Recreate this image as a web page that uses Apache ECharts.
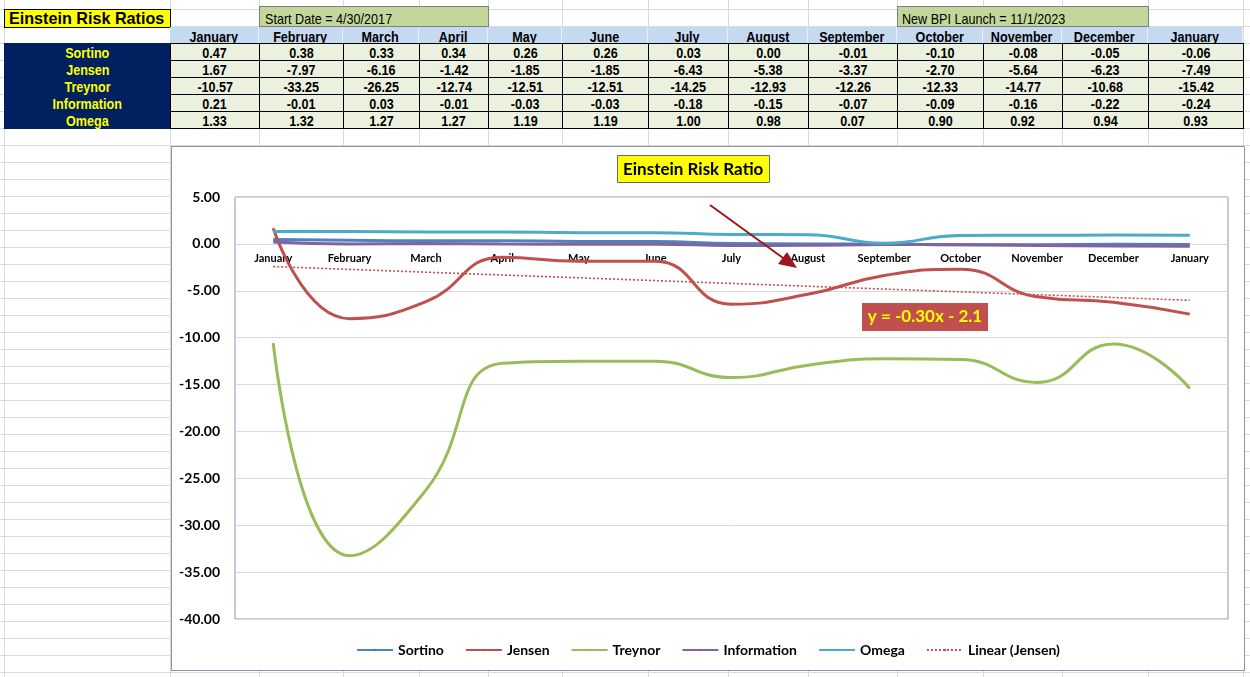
<!DOCTYPE html>
<html>
<head>
<meta charset="utf-8">
<script src="https://cdn.jsdelivr.net/npm/echarts@6/dist/echarts.min.js"></script>
<style>
  html, body { margin:0; padding:0; width:1250px; height:677px; overflow:hidden; background:#fff; position:relative; }
  .gl { position:absolute; background:#dadada; }
  .cell { position:absolute; box-sizing:border-box; display:flex; align-items:center; justify-content:center;
          font-family:"Liberation Sans",Arial,sans-serif; font-size:15px; font-weight:bold; color:#000; white-space:nowrap; }
  .cell span { display:inline-block; transform:scaleX(0.84); }
  .cell.left span { transform-origin:0 50%; }
  #chartBox { position:absolute; left:171px; top:146px; width:1074px; height:525px; box-sizing:border-box; border:1px solid #8497b0; background:#fff; }
  #chart { width:1072px; height:523px; }
</style>
</head>
<body>
<div id="chartBox"><div id="chart"></div></div>
<script>
// ---- data ----
const months = ['January','February','March','April','May','June','July','August','September','October','November','December','January'];
const sortino = [0.47,0.38,0.33,0.34,0.26,0.26,0.03,0.00,-0.01,-0.10,-0.08,-0.05,-0.06];
const jensen = [1.67,-7.97,-6.16,-1.42,-1.85,-1.85,-6.43,-5.38,-3.37,-2.70,-5.64,-6.23,-7.49];
const treynor = [-10.57,-33.25,-26.25,-12.74,-12.51,-12.51,-14.25,-12.93,-12.26,-12.33,-14.77,-10.68,-15.42];
const information = [0.21,-0.01,0.03,-0.01,-0.03,-0.03,-0.18,-0.15,-0.07,-0.09,-0.16,-0.22,-0.24];
const omega = [1.33,1.32,1.27,1.27,1.19,1.19,1.00,0.98,0.07,0.90,0.92,0.94,0.93];
const rowNames = ['Sortino','Jensen','Treynor','Information','Omega'];
const rowValues = [sortino, jensen, treynor, information, omega];
const sheetTitle = 'Einstein Risk Ratios';
const startNote = 'Start Date = 4/30/2017';
const launchNote = 'New BPI Launch = 11/1/2023';
const chartTitle = 'Einstein Risk Ratio';
const yTicks = {min:-40, max:5, interval:5};

// ---- linear trendline (least squares on Jensen, x = 1..n) ----
const n = jensen.length;
let sx=0, sy=0, sxy=0, sxx=0;
jensen.forEach((v,i)=>{ const x=i+1; sx+=x; sy+=v; sxy+=x*v; sxx+=x*x; });
const slope = (n*sxy - sx*sy)/(n*sxx - sx*sx);
const intercept = (sy - slope*sx)/n;
const trend = jensen.map((v,i)=> +(slope*(i+1)+intercept).toFixed(4));
const eqText = 'y = ' + slope.toFixed(2) + 'x - ' + Math.abs(intercept).toFixed(1);

// ---- spreadsheet layout ----
const colEdges = [4,170,259,343,419,488,562,648,728,808,897,983,1062,1148,1243];
const rowTop = 9, rowH = 17;
function el(cls, css, text){ const d=document.createElement('div'); d.className=cls; Object.assign(d.style, css);
  if(text!==undefined){ const s=document.createElement('span'); s.textContent=text; d.appendChild(s); }
  document.body.insertBefore(d, document.getElementById('chartBox')); return d; }
// background grid lines
for (let y = rowTop; y < 677; y += rowH) el('gl', {left:'0px', top:y+'px', width:'1250px', height:'1px'});
colEdges.forEach(x => el('gl', {left:x+'px', top:'0px', width:'1px', height:'677px'}));

// title row
const t = el('cell left', {left:'4px', top:'9px', width:'167px', height:'19px', background:'#ffff00', border:'1.5px solid #000',
  fontSize:'17px', justifyContent:'flex-start', paddingLeft:'4px'}, sheetTitle);
t.firstChild.style.transform = 'scaleX(0.95)';
el('cell left', {left:'259px', top:'6px', width:'230px', height:'21px', background:'#c4d79b', border:'1px solid #7f7f7f',
  fontWeight:'normal', justifyContent:'flex-start', paddingLeft:'5px', paddingTop:'3px'}, startNote);
el('cell left', {left:'897px', top:'6px', width:'252px', height:'21px', background:'#c4d79b', border:'1px solid #7f7f7f',
  fontWeight:'normal', justifyContent:'flex-start', paddingLeft:'4px', paddingTop:'3px'}, launchNote);
// header row
const hdrTop = 26;
months.forEach((m,i)=>{
  const x0 = colEdges[i+1], x1 = colEdges[i+2];
  el('cell', {left:x0+'px', top:(hdrTop+1)+'px', width:(x1-x0)+'px', height:'16px', background:'#c5d9f1',
    borderRight:'1px solid #e8eef7', paddingTop:'2px'}, m);
});
// data rows
const dataTop = 43;
el('cell', {left:'4px', top:dataTop+'px', width:'167px', height:(rowH*5+1)+'px', background:'#002060'});
rowNames.forEach((nm,r)=>{
  el('cell', {left:'4px', top:(dataTop+r*rowH)+'px', width:'167px', height:rowH+'px', color:'#ffff00', paddingTop:'1px'}, nm);
  rowValues[r].forEach((v,i)=>{
    const x0 = colEdges[i+1], x1 = colEdges[i+2];
    el('cell', {left:x0+'px', top:(dataTop+r*rowH)+'px', width:(x1-x0+1)+'px', height:(rowH+1)+'px', background:'#ebf1de',
      border:'1px solid #000', paddingTop:'1px'}, v.toFixed(2));
  });
});

// ---- chart ----
const chart = echarts.init(document.getElementById('chart'), null, {renderer:'canvas'});
const font = 'Lato, "Open Sans", sans-serif';
const gridTop = 50, gridBottom = 51, chartH = 523;
const plotH = chartH - gridTop - gridBottom;
const zeroOffset = plotH * (0 - yTicks.min) / (yTicks.max - yTicks.min);
const lineSeries = (name, data, color) => ({
  name, type:'line', data, smooth:0.5, symbol:'none', z:3,
  lineStyle:{color, width:3}, itemStyle:{color}
});
chart.setOption({
  animation:false,
  title:{ text:chartTitle, left:445, top:8, backgroundColor:'#ffff00', borderColor:'#5f6b7a', borderWidth:1,
    padding:[6,6,5,6], textStyle:{fontFamily:font, fontSize:17, fontWeight:'bold', color:'#000'} },
  grid:{ left:63, top:gridTop, right:16, bottom:gridBottom, show:true, borderColor:'#8497b0', borderWidth:1, backgroundColor:'transparent' },
  legend:{ left:'center', top:491, itemWidth:36, itemHeight:3, itemGap:21,
    textStyle:{fontFamily:font, fontSize:14, fontWeight:'bold', color:'#000'},
    data:['Sortino','Jensen','Treynor','Information','Omega','Linear (Jensen)'] },
  xAxis:{ type:'category', data:months, boundaryGap:true, offset:-zeroOffset,
    axisLine:{show:true, onZero:false, lineStyle:{color:'#d9d9d9', width:1}},
    axisTick:{show:false},
    axisLabel:{interval:0, margin:9, fontFamily:font, fontSize:11, fontWeight:'bold', color:'#000'},
    splitLine:{show:false} },
  yAxis:{ type:'value', min:yTicks.min, max:yTicks.max, interval:yTicks.interval,
    axisLine:{show:false}, axisTick:{show:false},
    axisLabel:{margin:15, fontFamily:font, fontSize:14, fontWeight:'bold', color:'#000', formatter:v=>v.toFixed(2)},
    splitLine:{lineStyle:{color:'#d9d9d9', width:1}} },
  series:[
    lineSeries('Sortino', sortino, '#4f81bd'),
    lineSeries('Jensen', jensen, '#c0504d'),
    lineSeries('Treynor', treynor, '#9bbb59'),
    lineSeries('Information', information, '#8064a2'),
    lineSeries('Omega', omega, '#4bacc6'),
    { name:'Linear (Jensen)', type:'line', data:trend, smooth:false, symbol:'none', z:2,
      lineStyle:{color:'#c0504d', width:1.6, type:[2,2]}, itemStyle:{color:'#c0504d'} }
  ],
  graphic:[
    { type:'group', left:690, top:156, children:[
      { type:'rect', shape:{x:0, y:0, width:126, height:28}, style:{fill:'#c0504d'} },
      { type:'text', x:63, y:14, style:{text:eqText, fill:'#ffff00', font:'bold 17px '+font, align:'center', verticalAlign:'middle'} }
    ]},
    { type:'line', shape:{x1:538, y1:58, x2:618, y2:116}, style:{stroke:'#a0151b', lineWidth:2}, z:10 },
    { type:'polygon', shape:{points:[[625,121],[606,117],[615,105]]}, style:{fill:'#a0151b'}, z:10 }
  ]
});
</script>
</body>
</html>
